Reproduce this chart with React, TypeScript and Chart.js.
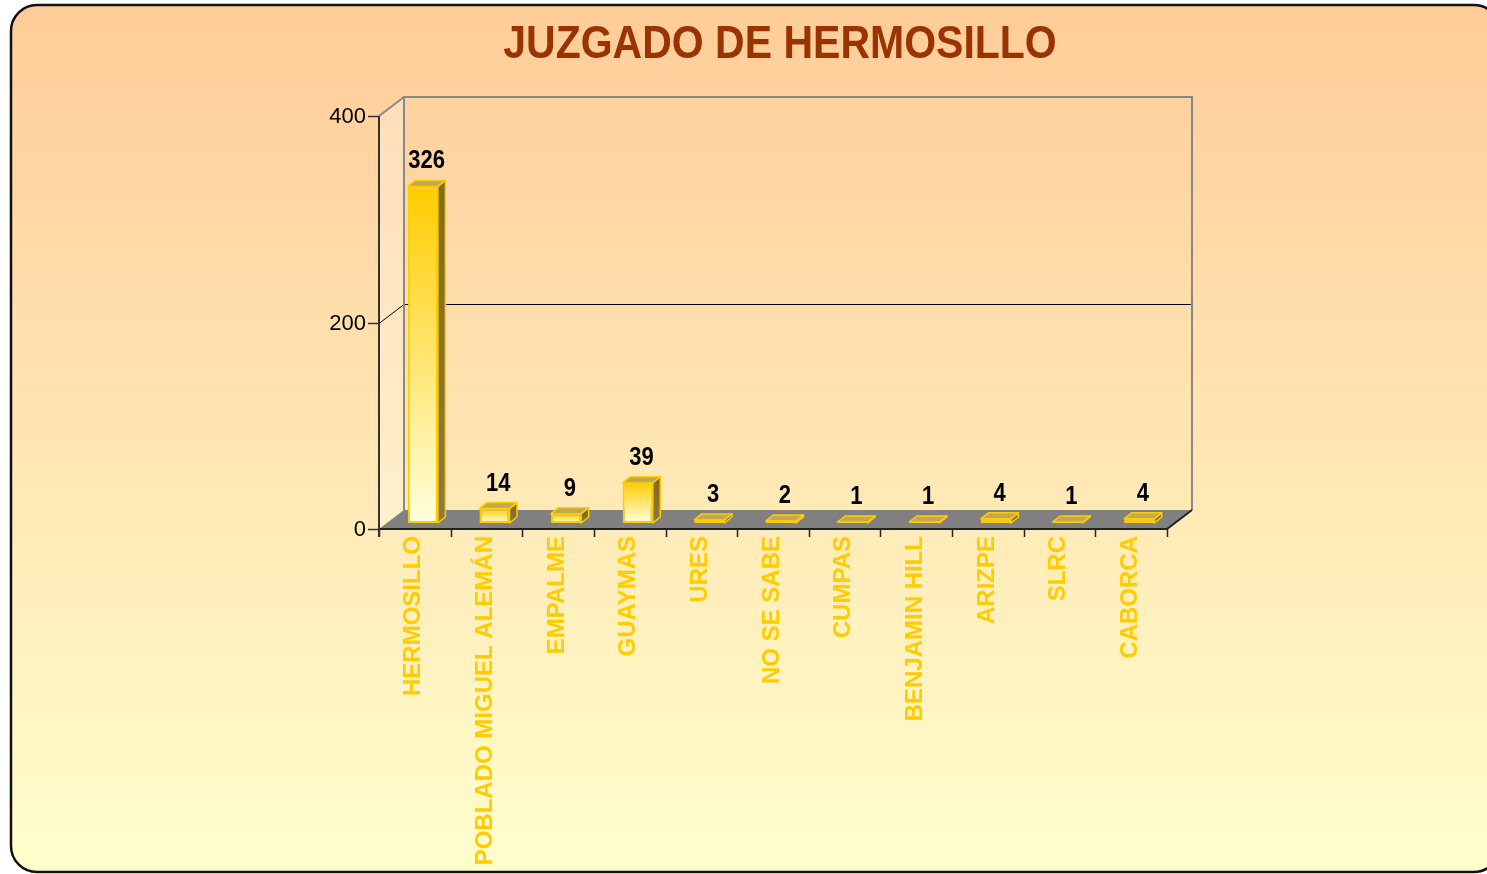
import React, { useEffect, useRef } from 'react';
import { Chart, registerables } from 'chart.js';

Chart.register(...registerables);

// ---- data ----
const titleText = 'JUZGADO DE HERMOSILLO';
const categories = [
  'HERMOSILLO',
  'POBLADO MIGUEL ALEMÁN',
  'EMPALME',
  'GUAYMAS',
  'URES',
  'NO SE SABE',
  'CUMPAS',
  'BENJAMIN HILL',
  'ARIZPE',
  'SLRC',
  'CABORCA',
];
const values = [326, 14, 9, 39, 3, 2, 1, 1, 4, 1, 4];
const yTickValues = [0, 200, 400];

// ---- style ----
const FONT = '"Liberation Sans", Arial, Helvetica, sans-serif';
const WALL = { dx: 25, dy: -19 };
const BAR_OFF = { dx: 8, dy: -6 };
const BAR_DEPTH = { dx: 7.5, dy: -6 };
const GOLD = '#FFCC00';

function stretchedText(ctx: CanvasRenderingContext2D, text: string, x: number, y: number, sy: number) {
  ctx.save();
  ctx.translate(x, y);
  ctx.scale(1, sy);
  ctx.fillText(text, 0, 0);
  ctx.restore();
}

const excel3d = {
  id: 'excel3d',
  beforeDraw(chart: any) {
    const { ctx, chartArea: a } = chart;
    const ys = chart.scales.y;
    ctx.save();
    // outer rounded box
    const bx = 11, by = 5, bw = 1500 - 11, bh = 872 - 5;
    const g = ctx.createLinearGradient(0, by, 0, by + bh);
    g.addColorStop(0, '#FFCC99');
    g.addColorStop(1, '#FFFFCC');
    ctx.beginPath();
    ctx.roundRect(bx, by, bw, bh, 26);
    ctx.fillStyle = g;
    ctx.fill();
    ctx.lineWidth = 2.5;
    ctx.strokeStyle = '#111111';
    ctx.stroke();

    // title
    ctx.fillStyle = '#993300';
    ctx.font = `bold 41px ${FONT}`;
    ctx.textAlign = 'center';
    ctx.textBaseline = 'alphabetic';
    stretchedText(ctx, titleText, 780, 58, 1.13);

    const y0 = ys.getPixelForValue(0);
    const yTop = ys.getPixelForValue(ys.max);
    const L = a.left, R = a.right;

    // side wall
    ctx.beginPath();
    ctx.moveTo(L, yTop);
    ctx.lineTo(L + WALL.dx, yTop + WALL.dy);
    ctx.lineTo(L + WALL.dx, y0 + WALL.dy);
    ctx.lineTo(L, y0);
    ctx.closePath();
    ctx.fillStyle = 'rgba(255,255,255,0.28)';
    ctx.fill();

    // floor
    ctx.beginPath();
    ctx.moveTo(L, y0);
    ctx.lineTo(R, y0);
    ctx.lineTo(R + WALL.dx, y0 + WALL.dy);
    ctx.lineTo(L + WALL.dx, y0 + WALL.dy);
    ctx.closePath();
    ctx.fillStyle = '#808080';
    ctx.fill();

    // gridlines
    ctx.strokeStyle = '#000000';
    ctx.lineWidth = 1;
    yTickValues.forEach((v) => {
      if (v <= ys.min || v >= ys.max) return;
      const py = Math.round(ys.getPixelForValue(v)) + 0.5;
      ctx.beginPath();
      ctx.moveTo(L, py);
      ctx.lineTo(L + WALL.dx, py + WALL.dy);
      ctx.lineTo(R + WALL.dx, py + WALL.dy);
      ctx.stroke();
    });

    // back wall edges
    ctx.strokeStyle = '#888888';
    ctx.lineWidth = 2;
    ctx.beginPath();
    ctx.moveTo(L + WALL.dx, y0 + WALL.dy);
    ctx.lineTo(L + WALL.dx, yTop + WALL.dy);
    ctx.lineTo(R + WALL.dx, yTop + WALL.dy);
    ctx.lineTo(R + WALL.dx, y0 + WALL.dy);
    ctx.stroke();
    ctx.beginPath();
    ctx.moveTo(L, yTop);
    ctx.lineTo(L + WALL.dx, yTop + WALL.dy);
    ctx.stroke();
    ctx.restore();
  },
  beforeDatasetsDraw(chart: any) {
    const { ctx } = chart;
    const meta = chart.getDatasetMeta(0);
    ctx.save();
    meta.data.forEach((bar: any) => {
      const { x, y, base, width } = bar.getProps(['x', 'y', 'base', 'width'], true);
      const l = x - width / 2 + BAR_OFF.dx;
      const r = x + width / 2 + BAR_OFF.dx;
      const t = y + BAR_OFF.dy;
      const b = base + BAR_OFF.dy;
      ctx.lineWidth = 1.5;
      ctx.strokeStyle = GOLD;
      ctx.lineJoin = 'round';
      // side face
      ctx.beginPath();
      ctx.moveTo(r, t);
      ctx.lineTo(r + BAR_DEPTH.dx, t + BAR_DEPTH.dy);
      ctx.lineTo(r + BAR_DEPTH.dx, b + BAR_DEPTH.dy);
      ctx.lineTo(r, b);
      ctx.closePath();
      const sg = ctx.createLinearGradient(0, t, 0, b);
      sg.addColorStop(0, '#826A20');
      sg.addColorStop(1, '#8E7A40');
      ctx.fillStyle = sg;
      ctx.fill();
      ctx.stroke();
      // top face
      ctx.beginPath();
      ctx.moveTo(l, t);
      ctx.lineTo(r, t);
      ctx.lineTo(r + BAR_DEPTH.dx, t + BAR_DEPTH.dy);
      ctx.lineTo(l + BAR_DEPTH.dx, t + BAR_DEPTH.dy);
      ctx.closePath();
      ctx.fillStyle = '#C2A854';
      ctx.fill();
      ctx.stroke();
    });
    ctx.translate(BAR_OFF.dx, BAR_OFF.dy);
  },
  afterDatasetsDraw(chart: any) {
    const { ctx, chartArea: a } = chart;
    ctx.restore();
    const xs = chart.scales.x;
    const ys = chart.scales.y;
    const y0 = ys.getPixelForValue(0);
    const yTop = ys.getPixelForValue(ys.max);
    const L = a.left, R = a.right;
    ctx.save();

    // floor front edge + right diagonal
    ctx.strokeStyle = '#222222';
    ctx.lineWidth = 2;
    ctx.beginPath();
    ctx.moveTo(L, y0);
    ctx.lineTo(R, y0);
    ctx.lineTo(R + WALL.dx, y0 + WALL.dy);
    ctx.stroke();

    // category ticks
    ctx.lineWidth = 1.5;
    const n = categories.length;
    const step = (R - L) / n;
    for (let k = 0; k <= n; k++) {
      const px = Math.round(L + k * step) + 0.5;
      ctx.beginPath();
      ctx.moveTo(px, y0);
      ctx.lineTo(px, y0 + 8);
      ctx.stroke();
    }

    // value axis
    ctx.strokeStyle = '#333333';
    ctx.lineWidth = 2;
    ctx.beginPath();
    ctx.moveTo(L, yTop);
    ctx.lineTo(L, y0 + 8);
    ctx.stroke();
    ctx.lineWidth = 1.5;
    ctx.fillStyle = '#000000';
    ctx.font = `22px ${FONT}`;
    ctx.textAlign = 'right';
    ctx.textBaseline = 'middle';
    yTickValues.forEach((v) => {
      const py = Math.round(ys.getPixelForValue(v)) + 0.5;
      ctx.beginPath();
      ctx.moveTo(L - 11, py);
      ctx.lineTo(L, py);
      ctx.stroke();
      ctx.fillText(String(v), L - 13, py);
    });

    // category labels
    ctx.fillStyle = GOLD;
    ctx.font = `bold 24px ${FONT}`;
    ctx.textAlign = 'right';
    ctx.textBaseline = 'middle';
    categories.forEach((c, i) => {
      const cx = xs.getPixelForValue(i);
      ctx.save();
      ctx.translate(cx - 1, y0 + 7);
      ctx.rotate(-Math.PI / 2);
      ctx.fillText(c, 0, 0);
      ctx.restore();
    });

    // data labels
    const meta = chart.getDatasetMeta(0);
    ctx.fillStyle = '#000000';
    ctx.font = `bold 22px ${FONT}`;
    ctx.textAlign = 'center';
    ctx.textBaseline = 'alphabetic';
    meta.data.forEach((bar: any, i: number) => {
      const { x, y } = bar.getProps(['x', 'y'], true);
      const lx = x + BAR_OFF.dx + BAR_DEPTH.dx / 2;
      const ly = y + BAR_OFF.dy + BAR_DEPTH.dy - 12;
      stretchedText(ctx, String(values[i]), lx, ly, 1.15);
    });
    ctx.restore();
  },
};

export default function App() {
  const canvasRef = useRef<HTMLCanvasElement | null>(null);

  useEffect(() => {
    const canvas = canvasRef.current;
    if (!canvas) return;
    const chart = new Chart(canvas, {
      type: 'bar',
      data: {
        labels: categories,
        datasets: [
          {
            data: values,
            backgroundColor: (c: any) => {
              const ch = c.chart;
              const ys = ch.scales && ch.scales.y;
              if (!ys || !ch.chartArea || typeof c.raw !== 'number') return GOLD;
              const top = ys.getPixelForValue(c.raw);
              const bot = ys.getPixelForValue(0);
              if (bot - top < 2) return GOLD;
              const g = ch.ctx.createLinearGradient(0, top, 0, bot);
              g.addColorStop(0, '#FFCC00');
              g.addColorStop(1, '#FFFFDC');
              return g;
            },
            borderColor: GOLD,
            borderWidth: 2,
            borderSkipped: false,
            barPercentage: 0.42,
            categoryPercentage: 1,
            clip: false as any,
          },
        ],
      },
      options: {
        responsive: false,
        maintainAspectRatio: false,
        animation: false,
        layout: { padding: { left: 379, right: 320, top: 116, bottom: 345 } },
        scales: {
          x: { display: false },
          y: { display: false, min: 0, max: 400 },
        },
        plugins: {
          legend: { display: false },
          tooltip: { enabled: false },
          title: { display: false },
        },
      },
      plugins: [excel3d],
    });
    return () => chart.destroy();
  }, []);

  return (
    <div style={{ position: 'fixed', left: 0, top: 0, width: 1487, height: 874, background: '#FFFFFF' }}>
      <canvas ref={canvasRef} width={1487} height={874} style={{ display: 'block' }} />
    </div>
  );
}
